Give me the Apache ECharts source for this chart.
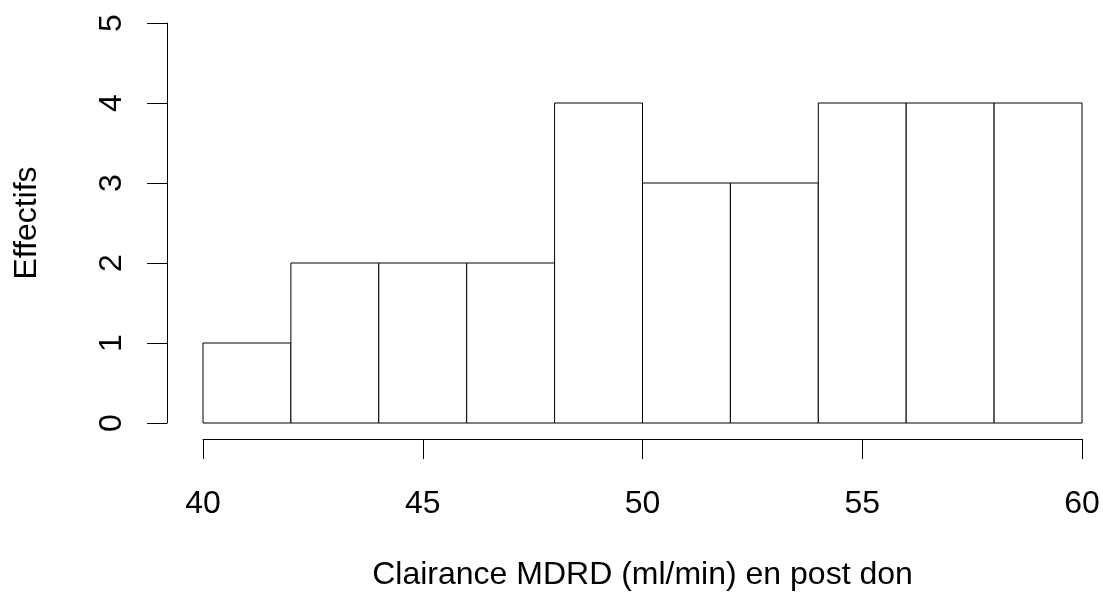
<!DOCTYPE html>
<html>
<head>
<meta charset="utf-8">
<script src="https://cdn.jsdelivr.net/npm/echarts@6/dist/echarts.min.js"></script>
<style>
html,body{margin:0;padding:0;background:#fff;}
#chart{width:1103px;height:601px;}
</style>
</head>
<body>
<div id="chart"></div>
<script>
var binStarts = [40, 42, 44, 46, 48, 50, 52, 54, 56, 58];
var binEnds   = [42, 44, 46, 48, 50, 52, 54, 56, 58, 60];
var counts    = [1, 2, 2, 2, 4, 3, 3, 4, 4, 4];
var xTitle = 'Clairance MDRD (ml/min) en post don';
var yTitle = 'Effectifs';

var data = binStarts.map(function (s, i) { return [s, binEnds[i], counts[i]]; });
var FONT = '"Liberation Sans", Arial, sans-serif';
var chart = echarts.init(document.getElementById('chart'), null, {renderer: 'canvas'});
chart.setOption({
  backgroundColor: '#ffffff',
  animation: false,
  grid: {left: 203, right: 21, top: 23, bottom: 178},
  xAxis: {
    type: 'value', min: 40, max: 60, interval: 5, offset: 16,
    axisLine: {show: true, onZero: false, lineStyle: {color: '#000', width: 1}},
    axisTick: {show: true, length: 20, lineStyle: {color: '#000', width: 1}},
    axisLabel: {color: '#000', fontSize: 32, fontFamily: FONT, margin: 49},
    splitLine: {show: false},
    name: xTitle, nameLocation: 'middle', nameGap: 120,
    nameTextStyle: {color: '#000', fontSize: 32, fontFamily: FONT}
  },
  yAxis: {
    type: 'value', min: 0, max: 5, interval: 1, offset: 36,
    axisLine: {show: true, onZero: false, lineStyle: {color: '#000', width: 1}},
    axisTick: {show: true, length: 20, lineStyle: {color: '#000', width: 1}},
    axisLabel: {color: '#000', fontSize: 32, fontFamily: FONT, margin: 39, rotate: 90},
    splitLine: {show: false},
    name: yTitle, nameLocation: 'middle', nameGap: 124,
    nameTextStyle: {color: '#000', fontSize: 32, fontFamily: FONT}
  },
  series: [{
    type: 'custom',
    data: data,
    encode: {x: [0, 1], y: 2},
    renderItem: function (params, api) {
      var p0 = api.coord([api.value(0), api.value(2)]);
      var p1 = api.coord([api.value(1), 0]);
      return {
        type: 'rect',
        shape: {x: p0[0], y: p0[1], width: p1[0] - p0[0], height: p1[1] - p0[1]},
        style: {fill: '#fff', stroke: '#000', lineWidth: 1}
      };
    }
  }]
});
</script>
</body>
</html>
